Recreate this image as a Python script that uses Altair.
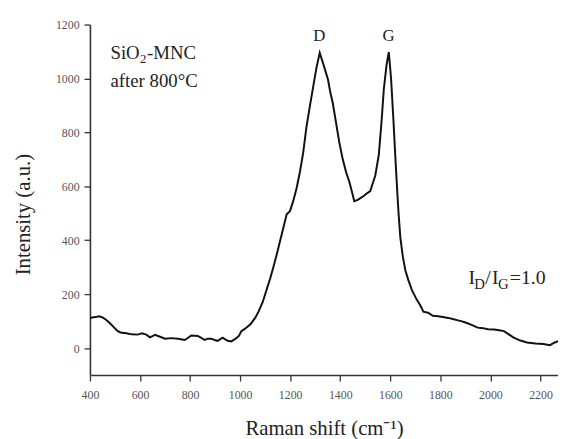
import altair as alt
import pandas as pd

# Raman spectrum
shift = [400, 420, 437, 450, 463, 480, 496, 510, 522, 545, 567, 590, 608, 625, 640, 660, 680, 700,
         725, 752, 779, 795, 805, 831, 845, 858, 872, 884, 898, 910, 930, 950, 965, 982, 995, 1005,
         1020, 1041, 1060, 1074, 1090, 1107, 1120, 1133, 1147, 1160, 1175, 1186, 1199, 1212, 1226,
         1239, 1252, 1265, 1280, 1292, 1305, 1318, 1330, 1340, 1351, 1360, 1370, 1383, 1396, 1410,
         1424, 1436, 1448, 1456, 1470, 1482, 1495, 1508, 1520, 1528, 1540, 1554, 1565, 1574, 1585,
         1594, 1603, 1613, 1620, 1627, 1633, 1640, 1650, 1660, 1672, 1686, 1706, 1719, 1725, 1732,
         1751, 1770, 1791, 1810, 1831, 1850, 1870, 1883, 1900, 1920, 1949, 1970, 1990, 2015, 2035,
         2054, 2075, 2093, 2120, 2146, 2180, 2212, 2238, 2255, 2275]
intensity = [112, 115, 118, 114, 106, 92, 77, 64, 58, 55, 51, 50, 55, 50, 40, 49, 42, 35,
             37, 35, 30, 40, 47, 45, 38, 30, 35, 35, 30, 27, 39, 27, 25, 35, 45, 63,
             72, 88, 112, 136, 170, 220, 258, 301, 350, 399, 455, 496, 508, 545, 595,
             654, 725, 820, 905, 970, 1040, 1095, 1060, 1030, 996, 950, 910, 837, 764, 700,
             650, 618, 575, 545, 550, 557, 565, 575, 582, 606, 640, 716, 840, 959, 1050,
             1098, 1000, 837, 710, 593, 500, 411, 340, 289, 252, 216, 179, 160, 149, 135,
             131, 120, 118, 115, 112, 108, 103, 100, 95, 88, 76, 74, 70, 69, 66,
             63, 50, 39, 28, 21, 17, 15, 11, 20, 27]

x_ticks = list(range(400, 2300, 100))
y_ticks = list(range(0, 1300, 100))

# annotation pieces: (x, y, text, dx, dy, size)
notes = [
    (482, 1071, "SiO", 0, 0, 19),
    (482, 1071, "2", 30, 4, 13),
    (482, 1071, "-MNC", 37, 0, 19),
    (482, 969, "after 800°C", 0, 0, 19),
    (1912, 237, "I", 0, 0, 20),
    (1912, 237, "D", 6, 5, 15),
    (1912, 237, "/", 17, 0, 20),
    (1912, 237, "I", 24, 0, 20),
    (1912, 237, "G", 30, 5, 15),
    (1912, 237, "=1.0", 42, 0, 20),
]
peaks_x = [1316, 1593]
peaks_y = [1140, 1140]
peaks_t = ["D", "G"]

FONT = "Liberation Serif"

df = pd.DataFrame({"shift": shift, "intensity": intensity})

xs = alt.Scale(domain=[400, 2270], nice=False, zero=False)
ys = alt.Scale(domain=[-100, 1200], nice=False, zero=False)

major_tick = {"condition": {"test": "datum.value % 200 === 0", "value": 6}, "value": 3}

line = alt.Chart(df).mark_line(color="#111", strokeWidth=2.0, clip=True).encode(
    x=alt.X("shift:Q", scale=xs,
            axis=alt.Axis(values=x_ticks, labelExpr="datum.value % 200 === 0 ? datum.label : ''",
                          format="d", tickSize=major_tick, tickColor="#333", tickWidth=1.3,
                          domainColor="#333", domainWidth=1.6, grid=False,
                          labelFont=FONT, labelFontSize=12, labelColor="#555", labelPadding=9,
                          labelFlush=False,
                          title="Raman shift (cm⁻¹)", titleFont=FONT, titleFontSize=21,
                          titleFontWeight="normal", titleColor="#222",
                          titleBaseline="alphabetic", titleY=60)),
    y=alt.Y("intensity:Q", scale=ys,
            axis=alt.Axis(values=y_ticks, labelExpr="datum.value % 200 === 0 ? datum.label : ''",
                          format="d", tickSize=major_tick, tickColor="#333", tickWidth=1.3,
                          domainColor="#333", domainWidth=1.6, grid=False,
                          labelFont=FONT, labelFontSize=12, labelColor="#555", labelPadding=5,
                          labelFlush=False,
                          title="Intensity (a.u.)", titleFont=FONT, titleFontSize=21,
                          titleFontWeight="normal", titleColor="#222",
                          titleBaseline="middle", titleX=-67, titleY=192)),
)

layers = [line]
for (nx, ny, t, ddx, ddy, sz) in notes:
    d = pd.DataFrame({"x": [nx], "y": [ny], "t": [t]})
    layers.append(
        alt.Chart(d).mark_text(align="left", baseline="alphabetic", dx=ddx, dy=ddy,
                               font=FONT, fontSize=sz, color="#222").encode(
            x=alt.X("x:Q", scale=xs), y=alt.Y("y:Q", scale=ys), text="t:N")
    )

pk = pd.DataFrame({"x": peaks_x, "y": peaks_y, "t": peaks_t})
layers.append(
    alt.Chart(pk).mark_text(align="center", baseline="alphabetic", font=FONT, fontSize=17,
                            color="#222").encode(
        x=alt.X("x:Q", scale=xs), y=alt.Y("y:Q", scale=ys), text="t:N")
)

chart = alt.layer(*layers).properties(
    width=474, height=355,
    autosize=alt.AutoSizeParams(type="none"),
    padding={"left": 83, "top": 14, "right": 0, "bottom": 62},
).configure_view(stroke=None)

chart.save("out.html", embed_options={"renderer": "svg", "actions": False})
